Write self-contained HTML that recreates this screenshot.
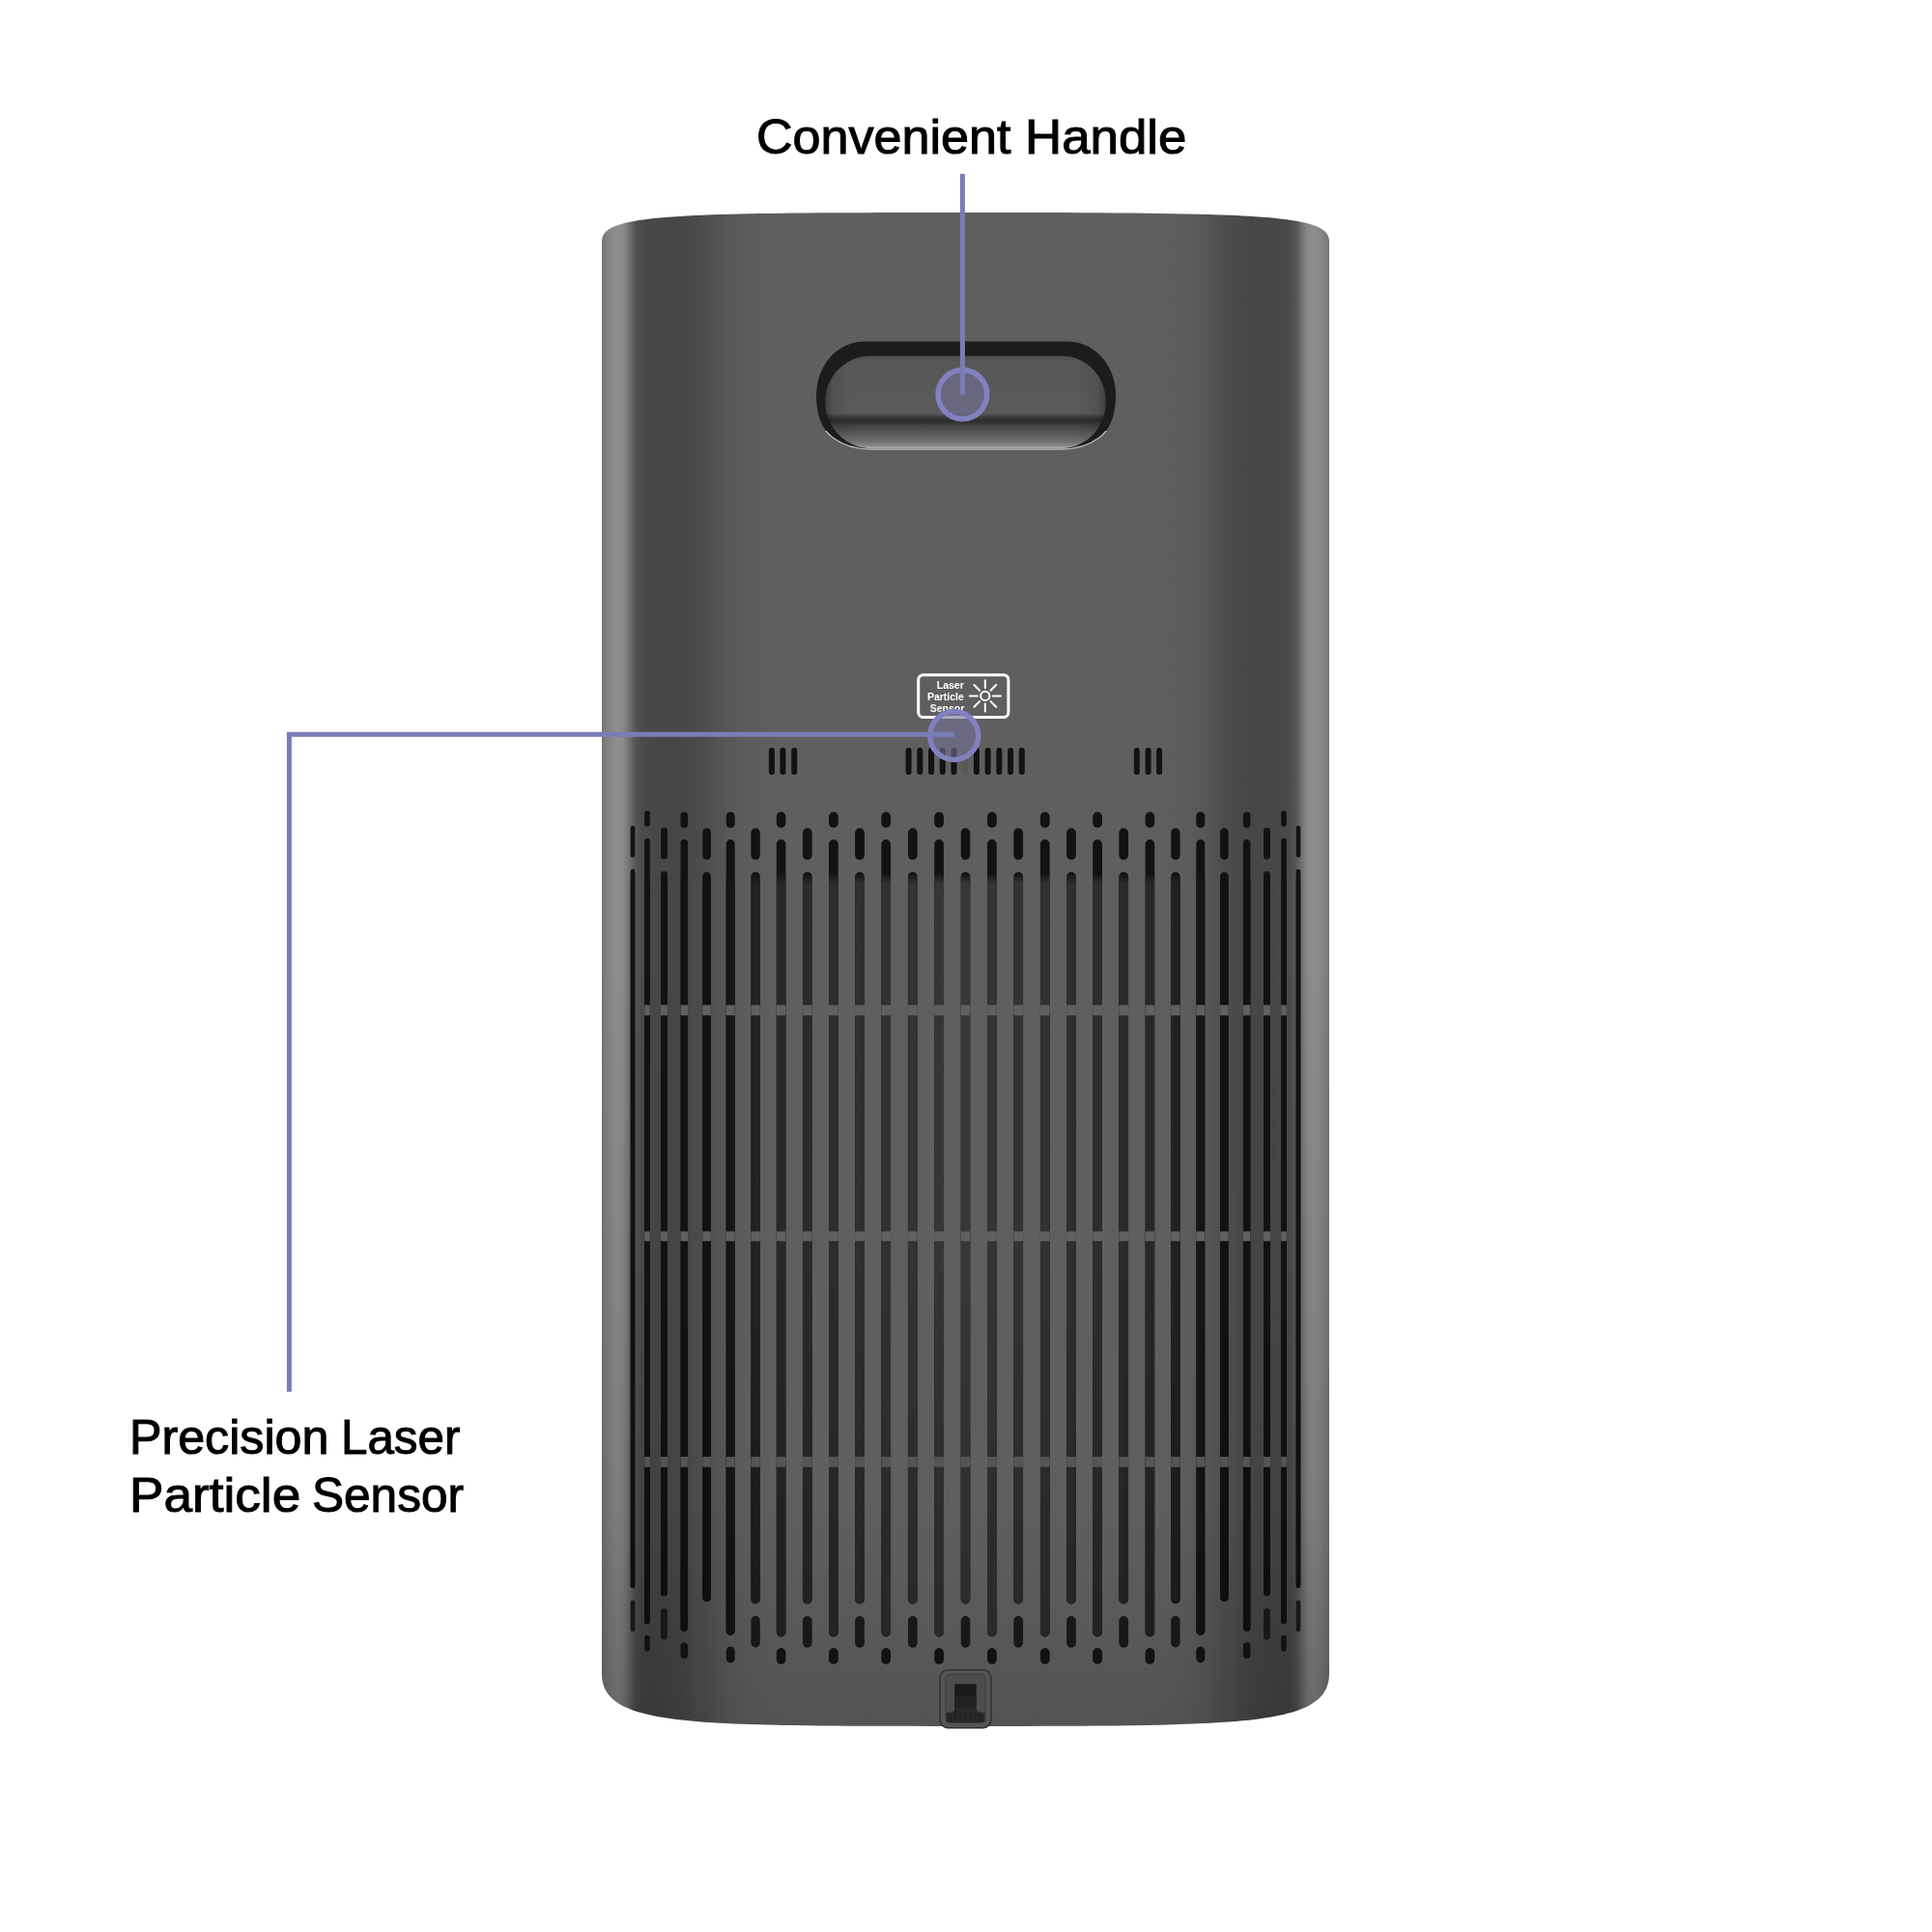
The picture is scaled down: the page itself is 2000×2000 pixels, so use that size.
<!DOCTYPE html>
<html><head><meta charset="utf-8"><style>
html,body{margin:0;padding:0;background:#fff;width:2000px;height:2000px;overflow:hidden}
svg{position:absolute;left:0;top:0;will-change:transform}
.t{position:absolute;font-family:"Liberation Sans",sans-serif;color:#000;white-space:nowrap;-webkit-text-stroke:1.05px #000;transform-origin:0 0}
</style></head><body>
<svg width="2000" height="2000" viewBox="0 0 2000 2000">
<defs>
 <linearGradient id="hg" x1="623" y1="0" x2="1376" y2="0" gradientUnits="userSpaceOnUse"><stop offset="0.0000" stop-color="#767676"/><stop offset="0.0106" stop-color="#868686"/><stop offset="0.0212" stop-color="#8f8f8f"/><stop offset="0.0292" stop-color="#898989"/><stop offset="0.0372" stop-color="#737373"/><stop offset="0.0452" stop-color="#575757"/><stop offset="0.0544" stop-color="#4b4b4b"/><stop offset="0.0757" stop-color="#474747"/><stop offset="0.1089" stop-color="#474747"/><stop offset="0.1421" stop-color="#4d4d4d"/><stop offset="0.1713" stop-color="#575757"/><stop offset="0.2019" stop-color="#5d5d5d"/><stop offset="0.2483" stop-color="#5f5f5f"/><stop offset="0.7517" stop-color="#5f5f5f"/><stop offset="0.7981" stop-color="#5d5d5d"/><stop offset="0.8287" stop-color="#575757"/><stop offset="0.8579" stop-color="#4d4d4d"/><stop offset="0.8911" stop-color="#474747"/><stop offset="0.9243" stop-color="#474747"/><stop offset="0.9456" stop-color="#4b4b4b"/><stop offset="0.9548" stop-color="#575757"/><stop offset="0.9628" stop-color="#737373"/><stop offset="0.9708" stop-color="#898989"/><stop offset="0.9788" stop-color="#8f8f8f"/><stop offset="0.9894" stop-color="#868686"/><stop offset="1.0000" stop-color="#767676"/></linearGradient>
 <linearGradient id="vg" x1="0" y1="1550" x2="0" y2="1787" gradientUnits="userSpaceOnUse">
  <stop offset="0" stop-color="#000" stop-opacity="0"/>
  <stop offset="1" stop-color="#000" stop-opacity="0.12"/>
 </linearGradient>
 <linearGradient id="filt" x1="623" y1="0" x2="1376" y2="0" gradientUnits="userSpaceOnUse">
  <stop offset="0.1660" stop-color="#121212"/>
  <stop offset="0.1979" stop-color="#1e1e1e"/>
  <stop offset="0.2351" stop-color="#272727"/>
  <stop offset="0.3546" stop-color="#2f2f2f"/>
  <stop offset="0.5" stop-color="#373737"/>
  <stop offset="0.6454" stop-color="#2f2f2f"/>
  <stop offset="0.7649" stop-color="#272727"/>
  <stop offset="0.8021" stop-color="#1e1e1e"/>
  <stop offset="0.8340" stop-color="#121212"/>
 </linearGradient>
 <linearGradient id="fv" x1="0" y1="0" x2="0" y2="2000" gradientUnits="userSpaceOnUse">
  <stop offset="0.4520" stop-color="#fff" stop-opacity="0"/>
  <stop offset="0.4570" stop-color="#fff" stop-opacity="1"/>
 </linearGradient>
 <mask id="fmask" maskUnits="userSpaceOnUse" x="0" y="0" width="2000" height="2000">
  <rect x="0" y="0" width="2000" height="2000" fill="url(#fv)"/>
 </mask>
 <linearGradient id="hgrad" x1="0" y1="368.6" x2="0" y2="464.2" gradientUnits="userSpaceOnUse">
  <stop offset="0" stop-color="#4e4e4e"/>
  <stop offset="0.06" stop-color="#575757"/>
  <stop offset="0.62" stop-color="#5a5a5a"/>
  <stop offset="0.66" stop-color="#3c3c3c"/>
  <stop offset="0.70" stop-color="#2c2c2c"/>
  <stop offset="0.76" stop-color="#444444"/>
  <stop offset="0.85" stop-color="#5c5c5c"/>
  <stop offset="0.93" stop-color="#717171"/>
  <stop offset="0.975" stop-color="#8c8c8c"/>
  <stop offset="1" stop-color="#b5b5b5"/>
 </linearGradient>
 <linearGradient id="hsgrad" x1="854.3" y1="0" x2="1144.7" y2="0" gradientUnits="userSpaceOnUse">
  <stop offset="0" stop-color="#000" stop-opacity="0.3"/>
  <stop offset="0.03" stop-color="#000" stop-opacity="0.08"/>
  <stop offset="0.1" stop-color="#000" stop-opacity="0"/>
  <stop offset="0.9" stop-color="#000" stop-opacity="0"/>
  <stop offset="0.97" stop-color="#000" stop-opacity="0.08"/>
  <stop offset="1" stop-color="#000" stop-opacity="0.3"/>
 </linearGradient>
 <linearGradient id="edgefade" x1="0" y1="1000" x2="0" y2="1787" gradientUnits="userSpaceOnUse">
  <stop offset="0" stop-color="#000" stop-opacity="0"/>
  <stop offset="0.5" stop-color="#000" stop-opacity="0.08"/>
  <stop offset="1" stop-color="#000" stop-opacity="0.16"/>
 </linearGradient>
 <linearGradient id="edgemaskg" x1="623" y1="0" x2="1376" y2="0" gradientUnits="userSpaceOnUse">
  <stop offset="0" stop-color="#fff"/>
  <stop offset="0.0425" stop-color="#fff"/>
  <stop offset="0.1288" stop-color="#000"/>
  <stop offset="0.8712" stop-color="#000"/>
  <stop offset="0.9575" stop-color="#fff"/>
  <stop offset="1" stop-color="#fff"/>
 </linearGradient>
 <mask id="edgemask" maskUnits="userSpaceOnUse" x="0" y="0" width="2000" height="2000">
  <rect x="600" y="0" width="800" height="2000" fill="url(#edgemaskg)"/>
 </mask>
 <linearGradient id="slotdark" x1="0" y1="1300" x2="0" y2="1700" gradientUnits="userSpaceOnUse">
  <stop offset="0" stop-color="#000" stop-opacity="0"/>
  <stop offset="1" stop-color="#000" stop-opacity="0.22"/>
 </linearGradient>
 <clipPath id="hbot"><rect x="840" y="446" width="320" height="30"/></clipPath>
 <clipPath id="longclip"><rect x="652.70" y="899.70" width="4.60" height="744.30" rx="2.30" ry="2.30" fill="#fff"/><rect x="667.20" y="867.66" width="5.60" height="813.64" rx="2.80" ry="2.80" fill="#fff"/><rect x="684.05" y="902.10" width="6.90" height="750.20" rx="3.45" ry="3.45" fill="#fff"/><rect x="704.55" y="869.10" width="7.50" height="819.60" rx="3.75" ry="3.75" fill="#fff"/><rect x="727.30" y="902.70" width="8.60" height="755.30" rx="4.30" ry="4.30" fill="#fff"/><rect x="751.70" y="869.10" width="9.00" height="823.80" rx="4.50" ry="4.50" fill="#fff"/><rect x="777.40" y="902.70" width="9.40" height="757.50" rx="4.70" ry="4.70" fill="#fff"/><rect x="803.80" y="869.10" width="9.60" height="825.40" rx="4.80" ry="4.80" fill="#fff"/><rect x="830.95" y="902.70" width="9.70" height="757.80" rx="4.85" ry="4.85" fill="#fff"/><rect x="858.00" y="869.10" width="9.80" height="825.40" rx="4.90" ry="4.90" fill="#fff"/><rect x="885.10" y="902.70" width="9.80" height="757.80" rx="4.90" ry="4.90" fill="#fff"/><rect x="912.35" y="869.10" width="9.70" height="825.40" rx="4.85" ry="4.85" fill="#fff"/><rect x="939.95" y="902.70" width="9.70" height="757.80" rx="4.85" ry="4.85" fill="#fff"/><rect x="967.25" y="869.10" width="9.70" height="825.40" rx="4.85" ry="4.85" fill="#fff"/><rect x="994.70" y="902.70" width="9.60" height="757.80" rx="4.80" ry="4.80" fill="#fff"/><rect x="1022.05" y="869.10" width="9.70" height="825.40" rx="4.85" ry="4.85" fill="#fff"/><rect x="1049.35" y="902.70" width="9.70" height="757.80" rx="4.85" ry="4.85" fill="#fff"/><rect x="1076.95" y="869.10" width="9.70" height="825.40" rx="4.85" ry="4.85" fill="#fff"/><rect x="1104.10" y="902.70" width="9.80" height="757.80" rx="4.90" ry="4.90" fill="#fff"/><rect x="1131.20" y="869.10" width="9.80" height="825.40" rx="4.90" ry="4.90" fill="#fff"/><rect x="1158.35" y="902.70" width="9.70" height="757.80" rx="4.85" ry="4.85" fill="#fff"/><rect x="1185.60" y="869.10" width="9.60" height="825.40" rx="4.80" ry="4.80" fill="#fff"/><rect x="1212.20" y="902.70" width="9.40" height="757.50" rx="4.70" ry="4.70" fill="#fff"/><rect x="1238.30" y="869.10" width="9.00" height="823.80" rx="4.50" ry="4.50" fill="#fff"/><rect x="1263.10" y="902.70" width="8.60" height="755.30" rx="4.30" ry="4.30" fill="#fff"/><rect x="1286.95" y="869.10" width="7.50" height="819.60" rx="3.75" ry="3.75" fill="#fff"/><rect x="1308.05" y="902.10" width="6.90" height="750.20" rx="3.45" ry="3.45" fill="#fff"/><rect x="1326.20" y="867.66" width="5.60" height="813.64" rx="2.80" ry="2.80" fill="#fff"/><rect x="1341.70" y="899.70" width="4.60" height="744.30" rx="2.30" ry="2.30" fill="#fff"/></clipPath>
 <clipPath id="bodyclip"><path d="M623,250 C623,222 690,220 999.5,220 C1309,220 1376,222 1376,250 L1376,1732 C1376,1787 1290,1787 999.5,1787 C709,1787 623,1787 623,1732 Z"/></clipPath>
</defs>
<g clip-path="url(#bodyclip)">
 <rect x="600" y="200" width="800" height="1600" fill="url(#hg)"/>
 <rect x="600" y="1500" width="800" height="300" fill="url(#vg)"/>
 <rect x="600" y="1000" width="800" height="800" fill="url(#edgefade)" mask="url(#edgemask)"/>
 <g clip-path="url(#longclip)">
  <rect x="623" y="850" width="753" height="900" fill="#121212"/>
  <rect x="623" y="850" width="753" height="900" fill="url(#filt)" mask="url(#fmask)"/>
  <rect x="665" y="1040.4" width="669" height="10.8" fill="#606060"/><rect x="665" y="1274.7" width="669" height="10.1" fill="#606060"/><rect x="665" y="1508.0" width="669" height="10.7" fill="#606060"/>
  <rect x="623" y="1300" width="753" height="450" fill="url(#slotdark)"/>
 </g>
 <rect x="652.70" y="854.80" width="4.60" height="32.80" rx="2.30" ry="2.30" fill="#121212"/><rect x="652.70" y="1656.60" width="4.60" height="32.60" rx="2.30" ry="2.30" fill="#181818"/><rect x="667.20" y="839.30" width="5.60" height="16.50" rx="2.80" ry="2.80" fill="#121212"/><rect x="667.20" y="1692.80" width="5.60" height="16.80" rx="2.80" ry="2.80" fill="#121212"/><rect x="684.05" y="856.80" width="6.90" height="32.80" rx="3.45" ry="3.45" fill="#121212"/><rect x="684.05" y="1664.90" width="6.90" height="32.60" rx="3.45" ry="3.45" fill="#181818"/><rect x="704.55" y="840.50" width="7.50" height="16.50" rx="3.75" ry="3.75" fill="#121212"/><rect x="704.55" y="1700.20" width="7.50" height="16.80" rx="3.75" ry="3.75" fill="#121212"/><rect x="727.30" y="857.30" width="8.60" height="32.80" rx="4.30" ry="4.30" fill="#121212"/><rect x="751.70" y="840.50" width="9.00" height="16.50" rx="4.50" ry="4.50" fill="#121212"/><rect x="751.70" y="1704.40" width="9.00" height="16.80" rx="4.50" ry="4.50" fill="#121212"/><rect x="777.40" y="857.30" width="9.40" height="32.80" rx="4.70" ry="4.70" fill="#121212"/><rect x="777.40" y="1672.80" width="9.40" height="32.60" rx="4.70" ry="4.70" fill="#181818"/><rect x="803.80" y="840.50" width="9.60" height="16.50" rx="4.80" ry="4.80" fill="#121212"/><rect x="803.80" y="1706.00" width="9.60" height="16.80" rx="4.80" ry="4.80" fill="#121212"/><rect x="830.95" y="857.30" width="9.70" height="32.80" rx="4.85" ry="4.85" fill="#121212"/><rect x="830.95" y="1673.10" width="9.70" height="32.60" rx="4.85" ry="4.85" fill="#181818"/><rect x="858.00" y="840.50" width="9.80" height="16.50" rx="4.90" ry="4.90" fill="#121212"/><rect x="858.00" y="1706.00" width="9.80" height="16.80" rx="4.90" ry="4.90" fill="#121212"/><rect x="885.10" y="857.30" width="9.80" height="32.80" rx="4.90" ry="4.90" fill="#121212"/><rect x="885.10" y="1673.10" width="9.80" height="32.60" rx="4.90" ry="4.90" fill="#181818"/><rect x="912.35" y="840.50" width="9.70" height="16.50" rx="4.85" ry="4.85" fill="#121212"/><rect x="912.35" y="1706.00" width="9.70" height="16.80" rx="4.85" ry="4.85" fill="#121212"/><rect x="939.95" y="857.30" width="9.70" height="32.80" rx="4.85" ry="4.85" fill="#121212"/><rect x="939.95" y="1673.10" width="9.70" height="32.60" rx="4.85" ry="4.85" fill="#181818"/><rect x="967.25" y="840.50" width="9.70" height="16.50" rx="4.85" ry="4.85" fill="#121212"/><rect x="967.25" y="1706.00" width="9.70" height="16.80" rx="4.85" ry="4.85" fill="#121212"/><rect x="994.70" y="857.30" width="9.60" height="32.80" rx="4.80" ry="4.80" fill="#121212"/><rect x="994.70" y="1673.10" width="9.60" height="32.60" rx="4.80" ry="4.80" fill="#181818"/><rect x="1022.05" y="840.50" width="9.70" height="16.50" rx="4.85" ry="4.85" fill="#121212"/><rect x="1022.05" y="1706.00" width="9.70" height="16.80" rx="4.85" ry="4.85" fill="#121212"/><rect x="1049.35" y="857.30" width="9.70" height="32.80" rx="4.85" ry="4.85" fill="#121212"/><rect x="1049.35" y="1673.10" width="9.70" height="32.60" rx="4.85" ry="4.85" fill="#181818"/><rect x="1076.95" y="840.50" width="9.70" height="16.50" rx="4.85" ry="4.85" fill="#121212"/><rect x="1076.95" y="1706.00" width="9.70" height="16.80" rx="4.85" ry="4.85" fill="#121212"/><rect x="1104.10" y="857.30" width="9.80" height="32.80" rx="4.90" ry="4.90" fill="#121212"/><rect x="1104.10" y="1673.10" width="9.80" height="32.60" rx="4.90" ry="4.90" fill="#181818"/><rect x="1131.20" y="840.50" width="9.80" height="16.50" rx="4.90" ry="4.90" fill="#121212"/><rect x="1131.20" y="1706.00" width="9.80" height="16.80" rx="4.90" ry="4.90" fill="#121212"/><rect x="1158.35" y="857.30" width="9.70" height="32.80" rx="4.85" ry="4.85" fill="#121212"/><rect x="1158.35" y="1673.10" width="9.70" height="32.60" rx="4.85" ry="4.85" fill="#181818"/><rect x="1185.60" y="840.50" width="9.60" height="16.50" rx="4.80" ry="4.80" fill="#121212"/><rect x="1185.60" y="1706.00" width="9.60" height="16.80" rx="4.80" ry="4.80" fill="#121212"/><rect x="1212.20" y="857.30" width="9.40" height="32.80" rx="4.70" ry="4.70" fill="#121212"/><rect x="1212.20" y="1672.80" width="9.40" height="32.60" rx="4.70" ry="4.70" fill="#181818"/><rect x="1238.30" y="840.50" width="9.00" height="16.50" rx="4.50" ry="4.50" fill="#121212"/><rect x="1238.30" y="1704.40" width="9.00" height="16.80" rx="4.50" ry="4.50" fill="#121212"/><rect x="1263.10" y="857.30" width="8.60" height="32.80" rx="4.30" ry="4.30" fill="#121212"/><rect x="1286.95" y="840.50" width="7.50" height="16.50" rx="3.75" ry="3.75" fill="#121212"/><rect x="1286.95" y="1700.20" width="7.50" height="16.80" rx="3.75" ry="3.75" fill="#121212"/><rect x="1308.05" y="856.80" width="6.90" height="32.80" rx="3.45" ry="3.45" fill="#121212"/><rect x="1308.05" y="1664.90" width="6.90" height="32.60" rx="3.45" ry="3.45" fill="#181818"/><rect x="1326.20" y="839.30" width="5.60" height="16.50" rx="2.80" ry="2.80" fill="#121212"/><rect x="1326.20" y="1692.80" width="5.60" height="16.80" rx="2.80" ry="2.80" fill="#121212"/><rect x="1341.70" y="854.80" width="4.60" height="32.80" rx="2.30" ry="2.30" fill="#121212"/><rect x="1341.70" y="1656.60" width="4.60" height="32.60" rx="2.30" ry="2.30" fill="#181818"/>
 <rect x="795.90" y="774.00" width="6.00" height="28.00" rx="3.00" ry="3.00" fill="#121212"/><rect x="807.40" y="774.00" width="6.00" height="28.00" rx="3.00" ry="3.00" fill="#121212"/><rect x="819.20" y="774.00" width="6.00" height="28.00" rx="3.00" ry="3.00" fill="#121212"/><rect x="1173.80" y="774.00" width="6.00" height="28.00" rx="3.00" ry="3.00" fill="#121212"/><rect x="1185.60" y="774.00" width="6.00" height="28.00" rx="3.00" ry="3.00" fill="#121212"/><rect x="1197.10" y="774.00" width="6.00" height="28.00" rx="3.00" ry="3.00" fill="#121212"/><rect x="937.60" y="774.00" width="6.00" height="28.00" rx="3.00" ry="3.00" fill="#121212"/><rect x="949.32" y="774.00" width="6.00" height="28.00" rx="3.00" ry="3.00" fill="#121212"/><rect x="961.04" y="774.00" width="6.00" height="28.00" rx="3.00" ry="3.00" fill="#121212"/><rect x="972.76" y="774.00" width="6.00" height="28.00" rx="3.00" ry="3.00" fill="#121212"/><rect x="984.48" y="774.00" width="6.00" height="28.00" rx="3.00" ry="3.00" fill="#121212"/><rect x="996.20" y="774.00" width="6.00" height="28.00" rx="3.00" ry="3.00" fill="rgba(0,0,0,0.07)"/><rect x="1007.92" y="774.00" width="6.00" height="28.00" rx="3.00" ry="3.00" fill="#121212"/><rect x="1019.64" y="774.00" width="6.00" height="28.00" rx="3.00" ry="3.00" fill="#121212"/><rect x="1031.36" y="774.00" width="6.00" height="28.00" rx="3.00" ry="3.00" fill="#121212"/><rect x="1043.08" y="774.00" width="6.00" height="28.00" rx="3.00" ry="3.00" fill="#121212"/><rect x="1054.80" y="774.00" width="6.00" height="28.00" rx="3.00" ry="3.00" fill="#121212"/>
</g>
<!-- handle -->
<g id="handle">
 <path d="M895,353.5 L1105,353.5 C1133,353.5 1155,378 1155,409.5 C1155,428 1150,444 1138,453 C1127,461 1113,465 1099,465 L901,465 C887,465 873,461 862,453 C850,444 845,428 845,409.5 C845,378 867,353.5 895,353.5 Z" fill="#1c1c1c"/>
 <path d="M845,409.5 C845,428 850,444 862,453 C873,461 887,465 901,465 L1099,465 C1113,465 1127,461 1138,453 C1150,444 1155,428 1155,409.5" stroke="#b5b5b5" stroke-width="1.5" fill="none" clip-path="url(#hbot)"/>
 <path d="M901,368.6 L1099,368.6 C1124,368.6 1144.7,389 1144.7,415.6 C1144.7,443 1124,464.2 1099,464.2 L901,464.2 C876,464.2 854.3,443 854.3,415.6 C854.3,389 876,368.6 901,368.6 Z" fill="url(#hgrad)"/>
 <path d="M901,368.6 L1099,368.6 C1124,368.6 1144.7,389 1144.7,415.6 C1144.7,443 1124,464.2 1099,464.2 L901,464.2 C876,464.2 854.3,443 854.3,415.6 C854.3,389 876,368.6 901,368.6 Z" fill="url(#hsgrad)"/>
</g>
<!-- label -->
<g id="label">
 <rect x="950.7" y="698.7" width="93.2" height="43.7" rx="5" fill="none" stroke="#fff" stroke-width="3"/>
 <text x="983.8" y="712.6" font-family="Liberation Sans" font-weight="bold" font-size="10.5" fill="#fff" text-anchor="middle">Laser</text>
 <text x="978.9" y="724.8" font-family="Liberation Sans" font-weight="bold" font-size="10.5" fill="#fff" text-anchor="middle">Particle</text>
 <text x="980.5" y="737.2" font-family="Liberation Sans" font-weight="bold" font-size="10.5" fill="#fff" text-anchor="middle">Sensor</text>
 <g stroke="#fff" stroke-width="2" stroke-linecap="round" fill="none">
  <circle cx="1019.8" cy="720.4" r="4.6"/>
  <line x1="1019.8" y1="704.3" x2="1019.8" y2="712.3"/>
  <line x1="1019.8" y1="728.5" x2="1019.8" y2="736.5"/>
  <line x1="1003.7" y1="720.4" x2="1011.7" y2="720.4"/>
  <line x1="1027.9" y1="720.4" x2="1035.9" y2="720.4"/>
  <line x1="1008.4" y1="709.0" x2="1014.1" y2="714.7"/>
  <line x1="1025.5" y1="726.1" x2="1031.2" y2="731.8"/>
  <line x1="1031.2" y1="709.0" x2="1025.5" y2="714.7"/>
  <line x1="1014.1" y1="726.1" x2="1008.4" y2="731.8"/>
 </g>
</g>
<!-- connector -->
<g id="conn">
 <rect x="973" y="1728.6" width="53" height="60.2" rx="8.5" fill="#545454" stroke="#2e2e2e" stroke-width="1.4"/>
 <rect x="979" y="1733" width="41" height="50.5" rx="5.5" fill="#4d4d4d" stroke="#3c3c3c" stroke-width="1"/>
 <rect x="988.2" y="1743.2" width="22.5" height="30" fill="#1b1b1b"/>
 <rect x="988.2" y="1756" width="22.5" height="17" fill="#222"/>
 <path d="M979.5,1783 L979.5,1774 Q979.5,1772.6 983,1772.6 L985,1772.6 Q988.2,1772 988.2,1768 L1010.7,1768 Q1010.7,1772 1014,1772.6 L1016,1772.6 Q1019.5,1772.6 1019.5,1774 L1019.5,1783 Z" fill="#282828"/>
 <g stroke="#1a1a1a" stroke-width="0.8">
  <line x1="984" y1="1774" x2="984" y2="1783"/><line x1="989" y1="1774" x2="989" y2="1783"/><line x1="994" y1="1774" x2="994" y2="1783"/><line x1="999.5" y1="1774" x2="999.5" y2="1783"/><line x1="1005" y1="1774" x2="1005" y2="1783"/><line x1="1010" y1="1774" x2="1010" y2="1783"/><line x1="1015" y1="1774" x2="1015" y2="1783"/>
 </g>
</g>
<!-- callouts -->
<g id="callouts">
 <line x1="996.4" y1="180" x2="996.4" y2="408.5" stroke="#7b7db6" stroke-width="5"/>
 <circle cx="996.4" cy="408.3" r="25.3" fill="rgba(118,116,158,0.55)" stroke="#8381c2" stroke-width="5.6"/>
 <line x1="996.4" y1="380" x2="996.4" y2="408.5" stroke="#7b7db6" stroke-width="5"/>
 <polyline points="299.4,1440.7 299.4,760.3 987.8,760.3" fill="none" stroke="#7b7db6" stroke-width="5" stroke-linejoin="miter"/>
 <circle cx="987.7" cy="761.5" r="25" fill="rgba(115,113,152,0.6)" stroke="#8280c0" stroke-width="5.5"/>
 <line x1="960" y1="760.3" x2="987.8" y2="760.3" stroke="#7b7db6" stroke-width="5"/>
</g>
</svg>
<div class="t" style="left:782.9px;top:111.5px;font-size:50.5px;line-height:60px;transform:scaleX(1.031)">Convenient</div>
<div class="t" style="left:1060.9px;top:111.5px;font-size:50.5px;line-height:60px;transform:scaleX(1.046)">Handle</div>
<div class="t" style="left:134.2px;top:1457.7px;font-size:49.5px;line-height:60px;transform:scaleX(1.0137)">Precision</div>
<div class="t" style="left:352.8px;top:1457.7px;font-size:49.5px;line-height:60px;transform:scaleX(0.996)">Laser</div>
<div class="t" style="left:134px;top:1517.7px;font-size:49.5px;line-height:60px;transform:scaleX(1.0736)">Particle</div>
<div class="t" style="left:323px;top:1517.7px;font-size:49.5px;line-height:60px;transform:scaleX(1.0006)">Sensor</div>
</body></html>
